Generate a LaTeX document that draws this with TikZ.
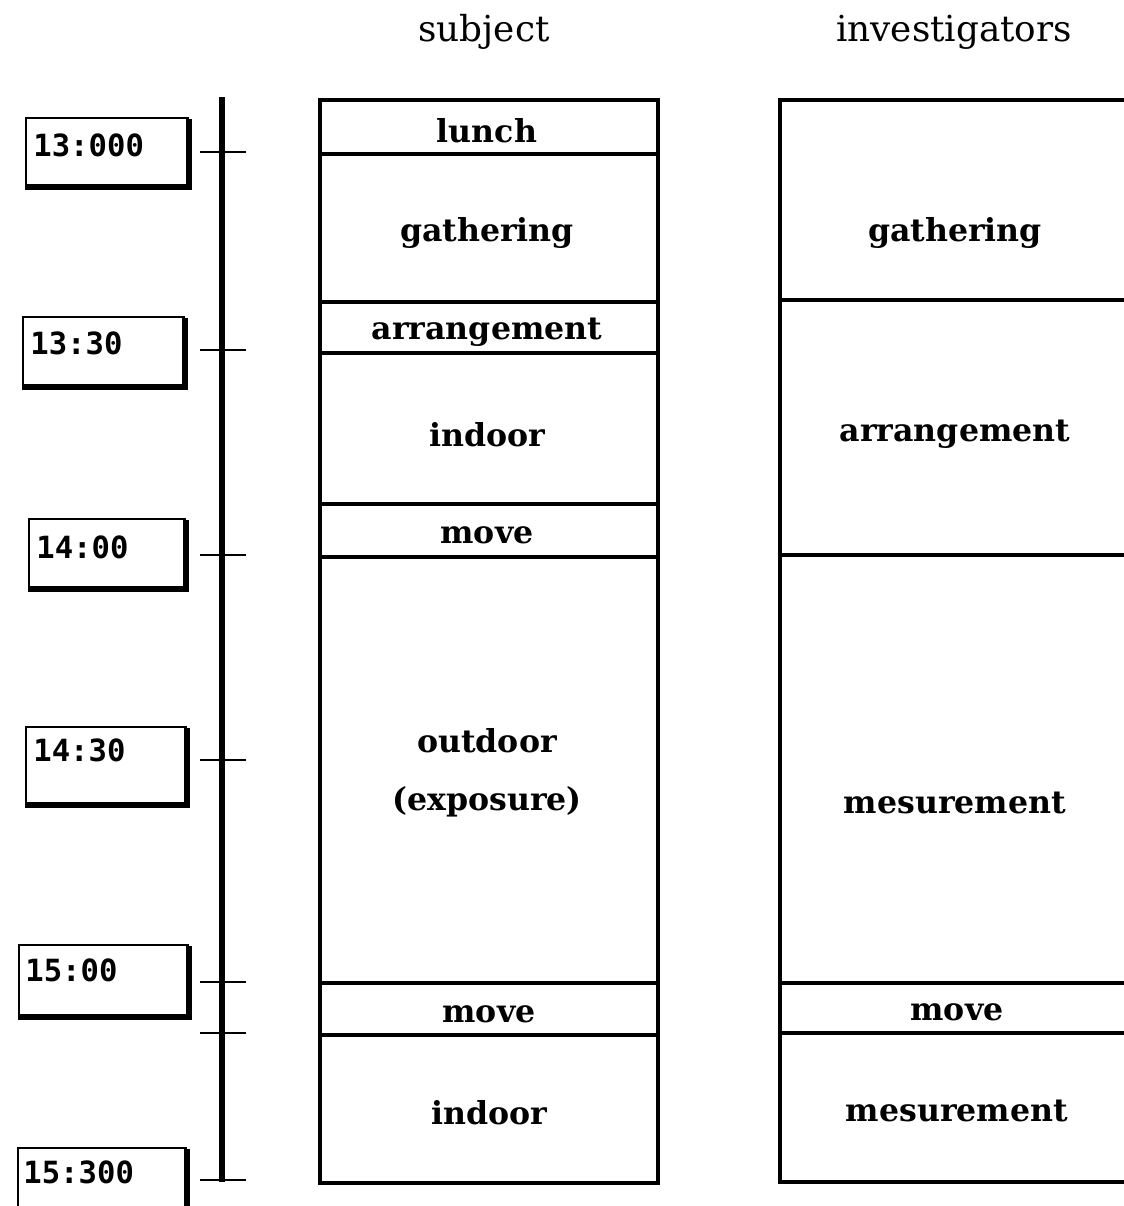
\documentclass[tikz,border=0pt]{standalone}
\usepackage{fontspec}
\setmainfont{DejaVu Serif}
\newfontfamily\monof{DejaVu Sans Mono}
\begin{document}
\begin{tikzpicture}[x=0.5pt,y=-0.5pt,
  cellS/.style={draw, line width=2pt, minimum width=169pt, inner sep=0pt},
  cellI/.style={draw, line width=2pt, minimum width=175pt, inner sep=0pt},
  lbl/.style={font=\bfseries\fontsize{15.8}{19}\selectfont, inner sep=0pt},
  tbox/.style={draw, line width=1pt, anchor=north west, inner sep=0pt},
  tlbl/.style={font=\monof\bfseries\fontsize{15.3}{18}\selectfont, anchor=west, inner sep=0pt},
  shade/.style={line width=2.6pt},
  hdr/.style={font=\fontsize{17.9}{21}\selectfont, inner sep=0pt},
  axisline/.style={line width=2.6pt},
  tick/.style={line width=1pt}]
\useasboundingbox (0,0) rectangle (1124,1206);
\clip (0,0) rectangle (1124,1206);

% headers
\node[hdr] (hS) at (484,32) {subject};
\node[hdr] (hI) at (954,32) {investigators};

% time axis
\coordinate (axtop) at (222,97);
\coordinate (axbot) at (222,1182);
\draw[axisline] (axtop) -- (axbot);
\foreach \y/\n in {152/a,350/b,555/c,760/d,982/e,1033/f,1180/g}{
  \coordinate (tl\n) at (200,\y);
  \coordinate (tr\n) at (246,\y);
  \draw[tick] (tl\n) -- (tr\n);
}

% time boxes
\node[tbox, minimum width=81pt, minimum height=34pt] (t1) at (25,117) {};
\node[tbox, minimum width=80.5pt, minimum height=34.5pt] (t2) at (22,316) {};
\node[tbox, minimum width=78pt, minimum height=34.5pt] (t3) at (28,518) {};
\node[tbox, minimum width=80pt, minimum height=38.5pt] (t4) at (25,726) {};
\node[tbox, minimum width=84.5pt, minimum height=35.5pt] (t5) at (18,944) {};
\node[tbox, minimum width=84pt, minimum height=35pt] (t6) at (17,1147) {};
\foreach \t in {t1,t2,t3,t4,t5,t6}{
  \draw[shade] ([yshift=-1pt]\t.north east) -- (\t.south east) -- (\t.south west);
}
\node[tlbl] (l1) at (33,145) {13:000};
\node[tlbl] (l2) at (30,343) {13:30};
\node[tlbl] (l3) at (36,547) {14:00};
\node[tlbl] (l4) at (33,750) {14:30};
\node[tlbl] (l5) at (25,970) {15:00};
\node[tlbl] (l6) at (23,1172) {15:300};

% subject column
\node[cellS, minimum height=27pt]   (s1) at (489,127)   {};
\node[cellS, minimum height=74pt]   (s2) at (489,228)   {};
\node[cellS, minimum height=25.5pt] (s3) at (489,327.5) {};
\node[cellS, minimum height=75.5pt] (s4) at (489,428.5) {};
\node[cellS, minimum height=26.5pt] (s5) at (489,530.5) {};
\node[cellS, minimum height=213pt]  (s6) at (489,770)   {};
\node[cellS, minimum height=26pt]   (s7) at (489,1009)  {};
\node[cellS, minimum height=74pt]   (s8) at (489,1109)  {};
\node[lbl] (sl1) at (487,131)  {lunch};
\node[lbl] (sl2) at (487,233)  {gathering};
\node[lbl] (sl3) at (487,332)  {arrangement};
\node[lbl] (sl4) at (487,435)  {indoor};
\node[lbl] (sl5) at (487,535)  {move};
\node[lbl, align=center] (sl6) at (487,773) {outdoor\\[10pt](exposure)};
\node[lbl] (sl7) at (489,1014) {move};
\node[lbl] (sl8) at (489,1113) {indoor};

% investigators column
\node[cellI, minimum height=100pt]   (i1) at (955,200)    {};
\node[cellI, minimum height=127.5pt] (i2) at (955,427.5)  {};
\node[cellI, minimum height=214pt]   (i3) at (955,769)    {};
\node[cellI, minimum height=25pt]    (i4) at (955,1008)   {};
\node[cellI, minimum height=74.5pt]  (i5) at (955,1107.5) {};
\node[lbl] (il1) at (955,233)  {gathering};
\node[lbl] (il2) at (955,434)  {arrangement};
\node[lbl] (il3) at (955,803)  {mesurement};
\node[lbl] (il4) at (957,1012) {move};
\node[lbl] (il5) at (957,1111) {mesurement};
\end{tikzpicture}
\end{document}
